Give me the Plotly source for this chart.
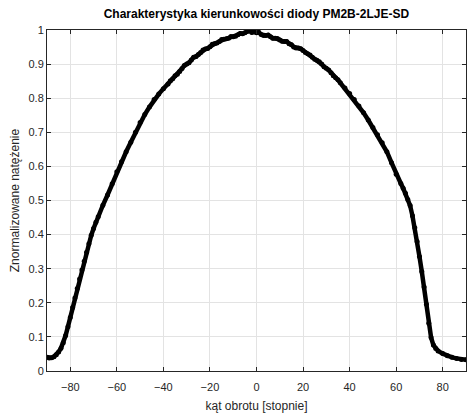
import plotly.graph_objects as go

angle_deg = [-90, -89, -88, -87, -86, -85, -84, -83, -82, -81, -80, -79, -78, -77, -76, -75,
             -74, -73, -72, -71, -70, -69, -68, -66, -64, -62, -60, -58, -56, -54, -52, -50,
             -48, -46, -44, -42, -40, -38, -37, -36, -35, -34, -33, -32, -31, -30, -29, -28,
             -27, -26, -25, -24, -23, -22, -21, -20, -19, -18, -17, -16, -15, -14, -13, -12,
             -11, -10, -9, -8, -7, -6, -5, -4, -3, -2, -1, 0, 1, 2, 3, 4, 5, 6, 7, 8, 9, 10,
             11, 12, 13, 14, 15, 16, 17, 18, 19, 20, 21, 22, 23, 24, 25, 26, 27, 28, 29, 30,
             31, 32, 33, 34, 35, 36, 38, 40, 42, 44, 46, 48, 50, 52, 54, 56, 58, 60, 62,
             63, 64, 65, 66, 67, 68, 69, 70, 71, 72, 73, 74, 75, 76, 77, 78, 80, 82, 84, 86,
             88, 90]
intensity = [0.040, 0.038, 0.039, 0.042, 0.048, 0.056, 0.067, 0.083, 0.104, 0.130, 0.157, 0.186,
             0.214, 0.242, 0.270, 0.296, 0.322, 0.348, 0.373, 0.398, 0.418, 0.436, 0.452, 0.486,
             0.516, 0.549, 0.584, 0.614, 0.643, 0.671, 0.700, 0.729, 0.752, 0.774, 0.796, 0.812,
             0.828, 0.842, 0.851, 0.857, 0.866, 0.870, 0.878, 0.887, 0.896, 0.900, 0.904, 0.912,
             0.920, 0.922, 0.928, 0.934, 0.941, 0.944, 0.946, 0.951, 0.958, 0.960, 0.962, 0.966,
             0.972, 0.973, 0.974, 0.976, 0.981, 0.980, 0.982, 0.986, 0.990, 0.989, 0.992, 0.996,
             0.998, 0.993, 0.995, 0.992, 0.993, 0.987, 0.984, 0.984, 0.985, 0.980, 0.976, 0.976,
             0.975, 0.971, 0.967, 0.966, 0.966, 0.960, 0.957, 0.950, 0.947, 0.947, 0.945, 0.940,
             0.934, 0.930, 0.927, 0.920, 0.914, 0.911, 0.907, 0.900, 0.892, 0.888, 0.883, 0.875,
             0.866, 0.860, 0.854, 0.845, 0.830, 0.814, 0.796, 0.777, 0.757, 0.736, 0.714, 0.693,
             0.669, 0.643, 0.611, 0.577, 0.550, 0.536, 0.521, 0.503, 0.485, 0.455, 0.420, 0.380,
             0.336, 0.292, 0.246, 0.196, 0.140, 0.098, 0.076, 0.066, 0.059, 0.051, 0.045, 0.040,
             0.037, 0.034, 0.033]

x_ticks = [-80, -60, -40, -20, 0, 20, 40, 60, 80]
y_ticks = [0, 0.1, 0.2, 0.3, 0.4, 0.5, 0.6, 0.7, 0.8, 0.9, 1]
y_tick_labels = ["0", "0.1", "0.2", "0.3", "0.4", "0.5", "0.6", "0.7", "0.8", "0.9", "1"]

title_text = "Charakterystyka kierunkowości diody PM2B-2LJE-SD"
x_title = "kąt obrotu [stopnie]"
y_title = "Znormalizowane natężenie"

FONT = "Liberation Sans, Arial, sans-serif"
AX = "#262626"
GRID = "#e3e3e3"

fig = go.Figure()
fig.add_trace(go.Scatter(
    x=angle_deg, y=intensity, mode="lines+markers",
    line=dict(color="black", width=4.5),
    marker=dict(color="black", size=5),
    showlegend=False, hoverinfo="x+y",
))

fig.update_layout(
    width=467, height=414,
    margin=dict(l=47, r=1, t=30, b=43),
    paper_bgcolor="white", plot_bgcolor="white",
    font=dict(family=FONT, size=11, color=AX),
    title=dict(text="<b>" + title_text + "</b>", x=0.549, xanchor="center",
               y=0.966, yanchor="middle", font=dict(family=FONT, size=12, color="black")),
)
fig.update_xaxes(
    range=[-90, 90], tickvals=x_ticks, ticks="inside", ticklen=4, tickcolor=AX,
    showline=True, linecolor=AX, linewidth=1, mirror="ticks",
    showgrid=True, gridcolor=GRID, gridwidth=1, zeroline=False,
    tickfont=dict(size=11, color=AX), ticklabelstandoff=6,
    title=dict(text=x_title, font=dict(size=12, color=AX), standoff=9),
    automargin=False,
)
fig.update_yaxes(
    range=[0, 1], tickvals=y_ticks, ticktext=y_tick_labels, ticks="inside", ticklen=4,
    tickcolor=AX, showline=True, linecolor=AX, linewidth=1, mirror="ticks",
    showgrid=True, gridcolor=GRID, gridwidth=1, zeroline=False,
    tickfont=dict(size=11, color=AX),
    title=dict(text=y_title, font=dict(size=12, color=AX), standoff=6),
    automargin=False,
)

fig.write_html("out.html", config={"displayModeBar": False},
               post_script="document.body.style.margin='0';")
